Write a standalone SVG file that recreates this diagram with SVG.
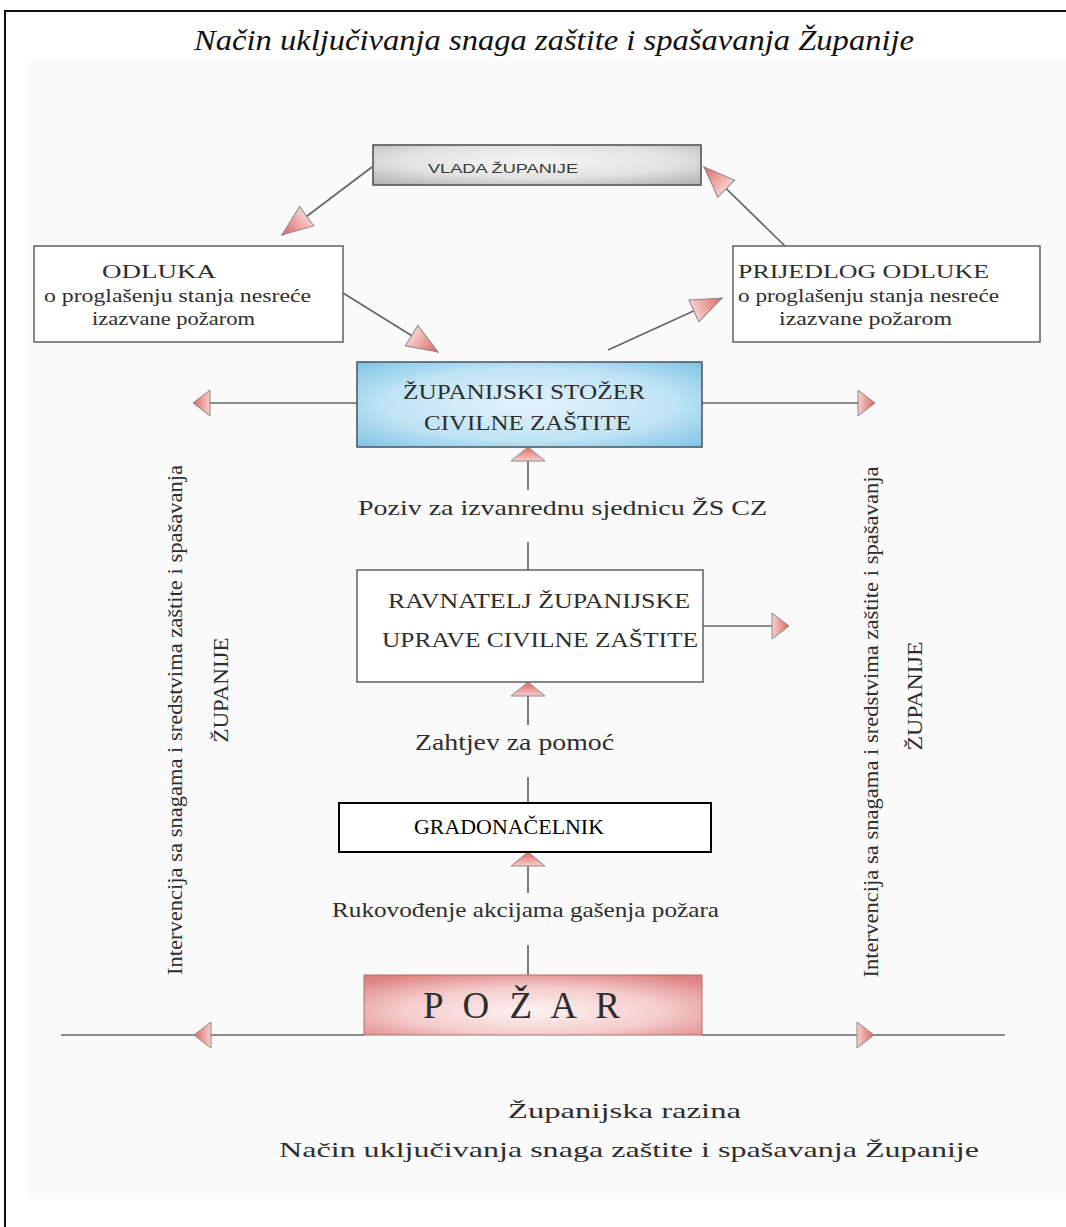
<svg xmlns="http://www.w3.org/2000/svg" width="1066" height="1227" viewBox="0 0 1066 1227">
<defs>
<style>
.t{font-family:"Liberation Serif","Times New Roman",serif;fill:#2e2e2e}
.box{stroke:#6a6a6a;stroke-width:1.6}
.ln{stroke:#666;stroke-width:1.7;fill:none}
.ah{stroke:#8a8a8a;stroke-width:1;fill:url(#gArrow)}
</style>
<linearGradient id="gArrow" x1="0" y1="0" x2="1" y2="0">
<stop offset="0" stop-color="#f6cfcd"/>
<stop offset="1" stop-color="#de6562"/>
</linearGradient>
<radialGradient id="gBlue" cx="0.5" cy="0.5" r="0.7">
<stop offset="0" stop-color="#e4f3fb"/>
<stop offset="0.6" stop-color="#bfe3f4"/>
<stop offset="1" stop-color="#7fc4e6"/>
</radialGradient>
<radialGradient id="gRed" cx="0.5" cy="0.6" r="0.7">
<stop offset="0" stop-color="#fdf3f3"/>
<stop offset="0.55" stop-color="#f5cccc"/>
<stop offset="1" stop-color="#de8383"/>
</radialGradient>
<radialGradient id="gGrey" cx="0.5" cy="0.4" r="0.7">
<stop offset="0" stop-color="#f5f5f5"/>
<stop offset="0.6" stop-color="#e2e2e2"/>
<stop offset="1" stop-color="#b9b9b9"/>
</radialGradient>
<marker id="mBig" markerUnits="userSpaceOnUse" markerWidth="34" markerHeight="28" refX="32" refY="13" orient="auto">
<path class="ah" d="M1,1 L32,13 L1,25 Z"/>
</marker>
<marker id="mH" markerUnits="userSpaceOnUse" markerWidth="20" markerHeight="30" refX="18" refY="14" orient="auto">
<path class="ah" d="M1,1 L18,14 L1,27 Z"/>
</marker>
<marker id="mV" markerUnits="userSpaceOnUse" markerWidth="17" markerHeight="38" refX="15" refY="18" orient="auto">
<path class="ah" d="M1,1 L15,18 L1,35 Z"/>
</marker>
</defs>

<rect x="0" y="0" width="1066" height="1227" fill="#ffffff"/>
<rect x="5" y="11" width="1080" height="1240" fill="#ffffff" stroke="#111" stroke-width="2"/>
<rect x="28" y="59" width="1038" height="1140" fill="#f9faf9"/>

<text class="t" x="194" y="50" font-size="29" font-style="italic" textLength="720" lengthAdjust="spacingAndGlyphs" style="fill:#111">Način uključivanja snaga zaštite i spašavanja Županije</text>

<g id="connectors">
<line class="ln" x1="372" y1="167" x2="282" y2="235" marker-end="url(#mBig)"/>
<line class="ln" x1="785" y1="246" x2="704" y2="167" marker-end="url(#mBig)"/>
<line class="ln" x1="343" y1="293" x2="438" y2="352" marker-end="url(#mBig)"/>
<line class="ln" x1="608" y1="350" x2="722" y2="298" marker-end="url(#mBig)"/>
<line class="ln" x1="357" y1="403" x2="193" y2="403" marker-end="url(#mH)"/>
<line class="ln" x1="702" y1="403" x2="875" y2="403" marker-end="url(#mH)"/>
<line class="ln" x1="528" y1="490" x2="528" y2="447" marker-end="url(#mV)"/>
<line class="ln" x1="528" y1="542" x2="528" y2="570"/>
<line class="ln" x1="703" y1="626" x2="789" y2="626" marker-end="url(#mH)"/>
<line class="ln" x1="528" y1="725" x2="528" y2="682" marker-end="url(#mV)"/>
<line class="ln" x1="528" y1="777" x2="528" y2="803"/>
<line class="ln" x1="528" y1="893" x2="528" y2="852" marker-end="url(#mV)"/>
<line class="ln" x1="528" y1="945" x2="528" y2="975"/>
<line class="ln" x1="364" y1="1035" x2="194" y2="1035" marker-end="url(#mH)"/>
<line class="ln" x1="194" y1="1035" x2="61" y2="1035"/>
<line class="ln" x1="702" y1="1035" x2="874" y2="1035" marker-end="url(#mH)"/>
<line class="ln" x1="874" y1="1035" x2="1005" y2="1035"/>
</g>

<g id="vlada">
<rect class="box" x="373" y="145" width="328" height="40" fill="url(#gGrey)" style="stroke:#555"/>
<text x="428" y="173" font-family="Liberation Sans Narrow, Liberation Sans, Arial, sans-serif" font-size="13" textLength="150" lengthAdjust="spacingAndGlyphs" fill="#3a3a3a">VLADA ŽUPANIJE</text>
</g>

<g id="odluka">
<rect class="box" x="34" y="246" width="309" height="96" fill="#ffffff"/>
<text class="t" x="102" y="278" font-size="18" textLength="114" lengthAdjust="spacingAndGlyphs">ODLUKA</text>
<text class="t" x="44" y="302" font-size="18" textLength="267" lengthAdjust="spacingAndGlyphs">o proglašenju stanja nesreće</text>
<text class="t" x="92" y="325" font-size="18" textLength="163" lengthAdjust="spacingAndGlyphs">izazvane požarom</text>
</g>

<g id="prijedlog">
<rect class="box" x="733" y="246" width="307" height="96" fill="#ffffff"/>
<text class="t" x="738" y="278" font-size="18" textLength="251" lengthAdjust="spacingAndGlyphs">PRIJEDLOG ODLUKE</text>
<text class="t" x="738" y="302" font-size="18" textLength="261" lengthAdjust="spacingAndGlyphs">o proglašenju stanja nesreće</text>
<text class="t" x="779" y="325" font-size="18" textLength="173" lengthAdjust="spacingAndGlyphs">izazvane požarom</text>
</g>

<g id="stozer">
<rect class="box" x="357" y="362" width="345" height="85" fill="url(#gBlue)" style="stroke:#4f5b63"/>
<text class="t" x="403" y="399" font-size="22" textLength="242" lengthAdjust="spacingAndGlyphs">ŽUPANIJSKI STOŽER</text>
<text class="t" x="424" y="430" font-size="22" textLength="207" lengthAdjust="spacingAndGlyphs">CIVILNE ZAŠTITE</text>
</g>

<g id="poziv">
<text class="t" x="358" y="515" font-size="22" textLength="409" lengthAdjust="spacingAndGlyphs">Poziv za izvanrednu sjednicu ŽS CZ</text>
</g>

<g id="ravnatelj">
<rect class="box" x="357" y="570" width="346" height="112" fill="#ffffff"/>
<text class="t" x="388" y="608" font-size="21" textLength="302" lengthAdjust="spacingAndGlyphs">RAVNATELJ ŽUPANIJSKE</text>
<text class="t" x="382" y="647" font-size="21" textLength="316" lengthAdjust="spacingAndGlyphs">UPRAVE CIVILNE ZAŠTITE</text>
</g>

<g id="zahtjev">
<text class="t" x="415" y="750" font-size="23" textLength="199" lengthAdjust="spacingAndGlyphs">Zahtjev za pomoć</text>
</g>

<g id="gradonacelnik">
<rect x="339" y="803" width="372" height="49" fill="#ffffff" stroke="#000" stroke-width="2"/>
<text class="t" x="414" y="834" font-size="21" textLength="190" lengthAdjust="spacingAndGlyphs" style="fill:#000">GRADONAČELNIK</text>
</g>

<g id="rukovodenje">
<text class="t" x="332" y="917" font-size="21" textLength="387" lengthAdjust="spacingAndGlyphs">Rukovođenje akcijama gašenja požara</text>
</g>

<g id="pozar">
<rect x="364" y="975" width="338" height="60" fill="url(#gRed)" stroke="#b07070" stroke-width="1"/>
<text class="t" x="423" y="1018" font-size="37" textLength="197" lengthAdjust="spacing">P O Ž A R</text>
</g>

<g id="intervencija-lijevo">
<text class="t" transform="translate(182,720) rotate(-90)" text-anchor="middle" font-size="20" textLength="510" lengthAdjust="spacingAndGlyphs">Intervencija sa snagama i sredstvima zaštite i spašavanja</text>
<text class="t" transform="translate(228,690) rotate(-90)" text-anchor="middle" font-size="20" textLength="105" lengthAdjust="spacingAndGlyphs">ŽUPANIJE</text>
</g>

<g id="intervencija-desno">
<text class="t" transform="translate(878,722) rotate(-90)" text-anchor="middle" font-size="20" textLength="511" lengthAdjust="spacingAndGlyphs">Intervencija sa snagama i sredstvima zaštite i spašavanja</text>
<text class="t" transform="translate(922,696) rotate(-90)" text-anchor="middle" font-size="20" textLength="109" lengthAdjust="spacingAndGlyphs">ŽUPANIJE</text>
</g>

<g id="naslov-dolje">
<text class="t" x="508" y="1118" font-size="21" textLength="233" lengthAdjust="spacingAndGlyphs">Županijska razina</text>
<text class="t" x="279" y="1157" font-size="21" textLength="700" lengthAdjust="spacingAndGlyphs">Način uključivanja snaga zaštite i spašavanja Županije</text>
</g>
</svg>
